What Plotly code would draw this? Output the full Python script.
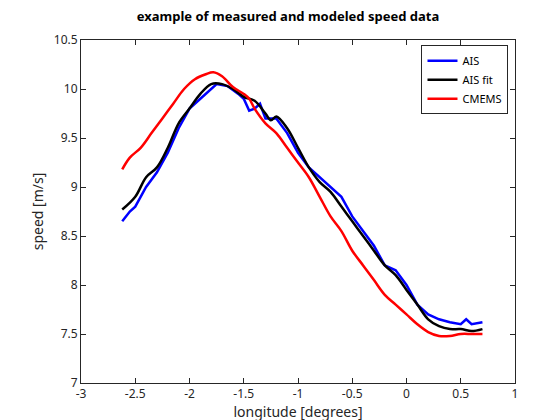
import plotly.graph_objects as go

ais_x = [-2.62,-2.55,-2.5,-2.4,-2.3,-2.2,-2.1,-2.0,-1.9,-1.8,-1.75,-1.65,-1.55,-1.5,-1.45,-1.4,-1.35,-1.3,-1.2,-1.1,-1.0,-0.9,-0.8,-0.7,-0.6,-0.5,-0.4,-0.3,-0.2,-0.1,0.0,0.1,0.2,0.3,0.4,0.5,0.55,0.6,0.7]
ais_y = [8.65,8.75,8.8,9.0,9.15,9.35,9.6,9.8,9.9,10.0,10.05,10.03,9.95,9.9,9.78,9.8,9.85,9.7,9.7,9.55,9.35,9.2,9.1,9.0,8.9,8.7,8.55,8.4,8.2,8.15,8.0,7.8,7.7,7.65,7.62,7.6,7.65,7.6,7.62]
fit_x = [-2.62,-2.5,-2.4,-2.3,-2.2,-2.1,-2.0,-1.9,-1.8,-1.7,-1.6,-1.5,-1.4,-1.3,-1.25,-1.2,-1.1,-1.0,-0.9,-0.8,-0.7,-0.6,-0.5,-0.4,-0.3,-0.2,-0.1,0.0,0.1,0.2,0.3,0.4,0.5,0.6,0.7]
fit_y = [8.77,8.9,9.1,9.2,9.4,9.65,9.8,9.95,10.05,10.05,10.0,9.92,9.88,9.75,9.68,9.72,9.6,9.4,9.2,9.05,8.95,8.8,8.65,8.5,8.35,8.2,8.1,7.95,7.8,7.65,7.58,7.55,7.55,7.53,7.55]
cm_x = [-2.62,-2.55,-2.45,-2.35,-2.25,-2.15,-2.05,-1.95,-1.85,-1.78,-1.7,-1.6,-1.5,-1.45,-1.4,-1.3,-1.2,-1.1,-1.0,-0.9,-0.8,-0.7,-0.6,-0.5,-0.4,-0.3,-0.2,-0.1,0.0,0.1,0.2,0.3,0.4,0.5,0.6,0.7]
cm_y = [9.18,9.3,9.4,9.55,9.7,9.85,10.0,10.1,10.15,10.17,10.13,10.02,9.95,9.9,9.8,9.65,9.55,9.4,9.25,9.1,8.9,8.7,8.55,8.35,8.2,8.05,7.9,7.8,7.7,7.6,7.52,7.48,7.48,7.5,7.5,7.5]

fig = go.Figure()
fig.add_trace(go.Scatter(x=ais_x, y=ais_y, mode="lines", name="AIS", line=dict(color="#0000ff", width=2.5)))
fig.add_trace(go.Scatter(x=fit_x, y=fit_y, mode="lines", name="AIS fit", line=dict(color="black", width=2.5, shape="spline")))
fig.add_trace(go.Scatter(x=cm_x, y=cm_y, mode="lines", name="CMEMS", line=dict(color="#ff0000", width=2.5, shape="spline")))

ax = dict(showline=True, linecolor="#262626", mirror="ticks", ticks="inside", ticklen=5, automargin=False,
          tickcolor="#262626", showgrid=False, zeroline=False, tickfont=dict(size=12, color="#262626"))
fig.update_layout(
    width=560, height=420, paper_bgcolor="white", plot_bgcolor="white",
    font=dict(family="Noto Sans", color="#262626"),
    margin=dict(l=73, r=53, t=32, b=45, autoexpand=False),
    title=dict(text="<b>example of measured and modeled speed data</b>", x=0.5, xanchor="center",
               y=0.99, yanchor="top", font=dict(size=13, color="black")),
    xaxis=dict(range=[-3, 1], tickvals=[-3,-2.5,-2,-1.5,-1,-0.5,0,0.5,1],
               ticktext=["-3","-2.5","-2","-1.5","-1","-0.5","0","0.5","1"],
               title=dict(text="longitude [degrees]", font=dict(size=14), standoff=4), **ax),
    yaxis=dict(range=[7, 10.5], tickvals=[7,7.5,8,8.5,9,9.5,10,10.5],
               ticktext=["7","7.5","8","8.5","9","9.5","10","10.5"],
               title=dict(text="speed [m/s]", font=dict(size=14), standoff=6), **ax),
    legend=dict(x=0.985, y=0.985, xanchor="right", yanchor="top", bgcolor="white",
                bordercolor="#262626", borderwidth=1, font=dict(size=11, color="black"),
                tracegroupgap=0),
)
fig.write_html("out.html")
